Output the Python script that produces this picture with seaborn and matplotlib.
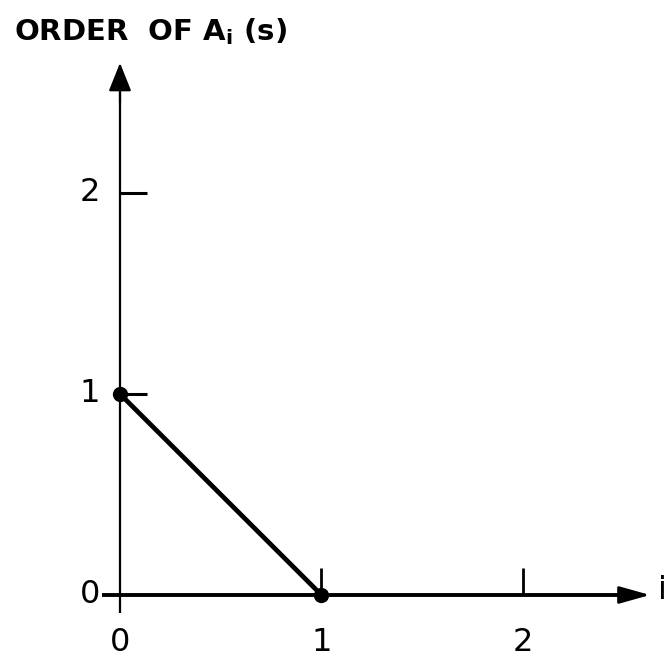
import matplotlib
matplotlib.use("Agg")
import matplotlib.pyplot as plt
import pandas as pd
import seaborn as sns

# Order of A_i(s) as a function of the index i
i_values = [0, 1]
order_values = [1, 0]

x_ticks = [1, 2]
y_ticks = [1, 2]
x_tick_labels = ["0", "1", "2"]
y_tick_labels = ["0", "1", "2"]
title_text = r"ORDER  OF A$_\mathrm{i}$ (s)"
x_axis_label = "i"

sns.set_theme(style="white")
plt.rcParams["font.family"] = ["DejaVu Sans"]
plt.rcParams["mathtext.fontset"] = "custom"
plt.rcParams["mathtext.rm"] = "DejaVu Sans:bold"

fig = plt.figure(figsize=(6.68, 6.59), dpi=100)
ax = fig.add_axes([0, 0, 1, 1])
ax.set_xlim(-0.5955, 2.7196)
ax.set_ylim(-0.3184, 2.960)
ax.axis("off")

ink = "black"

# axes with arrowheads
ax.plot([-0.089, 2.5], [0, 0], color=ink, lw=2.8, solid_capstyle="butt")
ax.plot([0, 0], [-0.09, 2.5], color=ink, lw=1.6, solid_capstyle="butt")
ax.annotate("", xy=(2.63, 0), xytext=(2.45, 0),
            arrowprops=dict(arrowstyle="-|>,head_length=1.35,head_width=0.38",
                            mutation_scale=14, lw=2.0, color=ink,
                            shrinkA=0, shrinkB=0))
ax.annotate("", xy=(0, 2.647), xytext=(0, 2.45),
            arrowprops=dict(arrowstyle="-|>,head_length=1.25,head_width=0.5",
                            mutation_scale=14, lw=1.6, color=ink,
                            shrinkA=0, shrinkB=0))

# tick marks pointing into the plot
tick_len = 0.134
ax.vlines(x_ticks, 0, tick_len, color=ink, lw=2.0)
ax.hlines(y_ticks, 0, tick_len, color=ink, lw=2.2)

# tick labels
label_kw = dict(fontsize=23, color=ink)
for k, lab in enumerate(x_tick_labels):
    ax.text(k, -0.237, lab, ha="center", va="center", **label_kw)
for k, lab in enumerate(y_tick_labels):
    ax.text(-0.1, k, lab, ha="right", va="center", **label_kw)

ax.text(2.672, 0.02, x_axis_label, ha="left", va="center", **label_kw)
ax.text(-0.525, 2.76, title_text, ha="left", va="baseline", fontsize=21,
        fontweight="bold", color=ink)

# the data: straight segment with dots at the points
df = pd.DataFrame({"i": i_values, "order": order_values})
sns.lineplot(data=df, x="i", y="order", ax=ax, color=ink, lw=3.4,
             marker="o", markersize=11, markeredgewidth=0, legend=False)

fig.savefig("out.png", dpi=100)
